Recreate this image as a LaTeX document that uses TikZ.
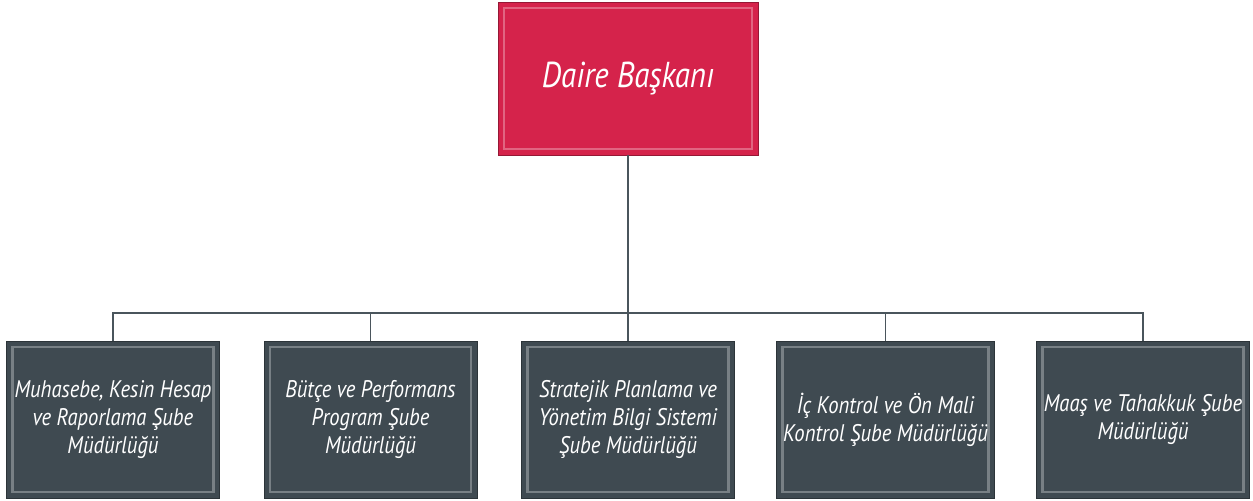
\documentclass[tikz,border=0pt]{standalone}
\usepackage{fontspec}
\newfontfamily\orgfont[FakeStretch=0.86]{PT Sans}
\usetikzlibrary{positioning}
\definecolor{headred}{HTML}{D5234B}
\definecolor{unitgray}{HTML}{3F4A51}
\definecolor{linegray}{HTML}{4A555C}
\tikzset{
    x=0.5pt, y=-0.5pt, % one unit is one pixel of the chart
    bevel/.style={path picture={
        \draw[white, opacity=.3, line width=1.2pt]
          ([shift={(3pt,3pt)}]path picture bounding box.south west) rectangle
          ([shift={(-3pt,-3pt)}]path picture bounding box.north east);}},
    head/.style={bevel, fill=headred, draw=headred!70!black, line width=.4pt,
        minimum width=130pt, minimum height=76.5pt, text=white,
        font=\orgfont\itshape\fontsize{18}{21}\selectfont},
    unit/.style={bevel, fill=unitgray, draw=unitgray!70!black, line width=.4pt,
        minimum width=106.5pt, minimum height=78.5pt, text=white, align=center,
        font=\orgfont\itshape\fontsize{12}{14}\selectfont},
    link/.style={draw=linegray, line width=.8pt},
}
\begin{document}
\begin{tikzpicture}[on grid]
      \useasboundingbox (0,0) rectangle (1253,501);
      \node (q_head) [head] at (628,78.5) {Daire Başkanı};
      \node (q_strateji) [unit, below=170.5pt of q_head] {Stratejik Planlama ve\\Yönetim Bilgi Sistemi\\Şube Müdürlüğü};
      \node (q_butce) [unit, left=128.75pt of q_strateji] {Bütçe ve Performans\\Program Şube\\Müdürlüğü};
      \node (q_muhasebe) [unit, left=128.75pt of q_butce] {Muhasebe, Kesin Hesap\\ve Raporlama Şube\\Müdürlüğü};
      \node (q_ickontrol) [unit, right=128.75pt of q_strateji] {İç Kontrol ve Ön Mali\\Kontrol Şube Müdürlüğü};
      \node (q_maas) [unit, right=128.75pt of q_ickontrol] {Maaş ve Tahakkuk Şube\\Müdürlüğü};
      \coordinate (bus) at (628,313);
      \draw[link] (q_head) -- (q_strateji);
      \draw[link] (q_butce) -- (q_butce.north |- bus);
      \draw[link] (q_ickontrol) -- (q_ickontrol.north |- bus);
      \draw[link] (q_muhasebe.north) |- (bus) -| (q_maas.north);
\end{tikzpicture}
\end{document}
